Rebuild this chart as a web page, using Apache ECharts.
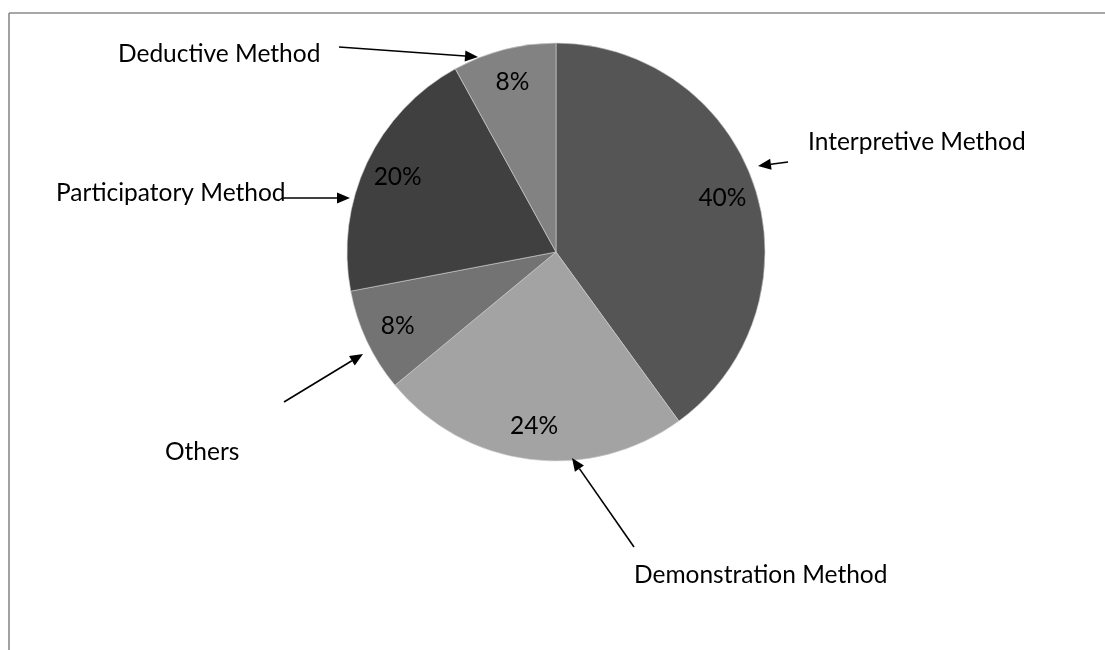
<!DOCTYPE html>
<html>
<head>
<meta charset="utf-8">
<script src="https://cdn.jsdelivr.net/npm/echarts@6/dist/echarts.min.js"></script>
<style>
  html, body { margin: 0; padding: 0; background: #ffffff; }
  #chart { width: 1105px; height: 650px; }
</style>
</head>
<body>
<div id="chart"></div>
<script>
// Teaching methods and their shares (percent)
const methods = ['Interpretive Method', 'Demonstration Method', 'Others', 'Participatory Method', 'Deductive Method'];
const shares = [40, 24, 8, 20, 8];
const sliceColors = ['#555555', '#a3a3a3', '#737373', '#404040', '#828282'];

// Callout annotations: text anchor and arrow (tail -> head)
const callouts = [
  { text: 'Deductive Method',     at: [118, 54],  from: [339, 47],  to: [478, 57] },
  { text: 'Interpretive Method',  at: [808, 142], from: [788, 162], to: [758, 166] },
  { text: 'Participatory Method', at: [56, 193],  from: [283, 198], to: [350, 198] },
  { text: 'Others',               at: [165, 452], from: [284, 402], to: [363, 354] },
  { text: 'Demonstration Method', at: [634, 575], from: [634, 547], to: [572, 458] }
];

const FONT = 'Lato, "Open Sans", sans-serif';
const FONT_SIZE = 24.5;

const pieData = methods.map((name, i) => ({
  name: name,
  value: shares[i],
  itemStyle: { color: sliceColors[i] }
}));

function arrowGraphics(c) {
  const [x1, y1] = c.from, [x2, y2] = c.to;
  const dx = x2 - x1, dy = y2 - y1;
  const len = Math.sqrt(dx * dx + dy * dy);
  const ux = dx / len, uy = dy / len;
  const headLen = 13, headHalf = 5.5;
  const bx = x2 - ux * headLen, by = y2 - uy * headLen;
  return [
    {
      type: 'line',
      shape: { x1: x1, y1: y1, x2: bx, y2: by },
      style: { stroke: '#000', lineWidth: 1.6 },
      z: 100
    },
    {
      type: 'polygon',
      shape: { points: [[x2, y2], [bx - uy * headHalf, by + ux * headHalf], [bx + uy * headHalf, by - ux * headHalf]] },
      style: { fill: '#000' },
      z: 100
    }
  ];
}

const graphics = [
  // chart frame: top and left edges
  { type: 'line', shape: { x1: 9, y1: 13, x2: 1105, y2: 13 }, style: { stroke: '#8a8a8a', lineWidth: 1.6 } },
  { type: 'line', shape: { x1: 9, y1: 13, x2: 9, y2: 650 }, style: { stroke: '#8a8a8a', lineWidth: 1.6 } }
];
callouts.forEach(c => {
  graphics.push({
    type: 'text',
    x: c.at[0], y: c.at[1],
    style: { text: c.text, font: FONT_SIZE + 'px ' + FONT, fill: '#000', textVerticalAlign: 'middle', textAlign: 'left' },
    z: 90
  });
  arrowGraphics(c).forEach(g => graphics.push(g));
});

const chart = echarts.init(document.getElementById('chart'), null, { renderer: 'canvas' });
chart.setOption({
  backgroundColor: '#ffffff',
  animation: false,
  graphic: graphics,
  series: [
    {
      type: 'pie',
      center: [556, 252],
      radius: [0, 209],
      startAngle: 90,
      clockwise: true,
      silent: true,
      label: { show: false },
      labelLine: { show: false },
      itemStyle: { borderColor: '#d0d0d0', borderWidth: 0.6 },
      data: pieData
    },
    {
      // transparent ring used to place the percentage labels toward the rim
      type: 'pie',
      center: [556, 252],
      radius: [135, 209],
      startAngle: 90,
      clockwise: true,
      silent: true,
      itemStyle: { color: 'rgba(0,0,0,0)', borderWidth: 0 },
      label: {
        show: true,
        position: 'inside',
        formatter: '{c}%',
        color: '#000',
        fontFamily: FONT,
        fontSize: FONT_SIZE
      },
      labelLine: { show: false },
      data: methods.map((name, i) => ({ name: name, value: shares[i] }))
    }
  ]
});
</script>
</body>
</html>
